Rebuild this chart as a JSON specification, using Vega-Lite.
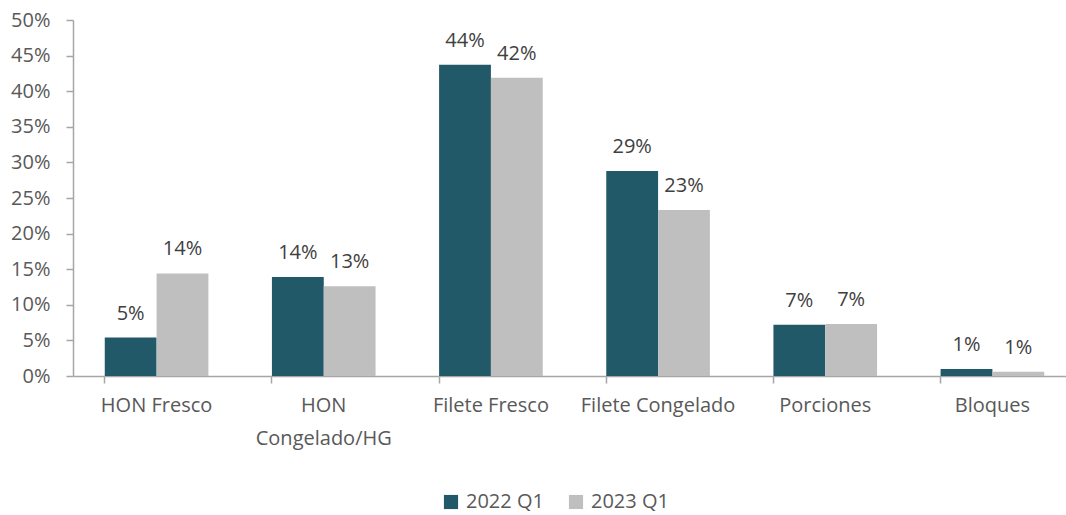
{
  "$schema": "https://vega.github.io/schema/vega-lite/v6.json",
  "autosize": "none",
  "width": 1003,
  "height": 356,
  "padding": {"left": 73, "top": 20, "right": 0, "bottom": 139},
  "background": "white",
  "config": {
    "view": {"stroke": null},
    "font": "Open Sans"
  },
  "data": {
    "values": [
      {"cat": "HON Fresco", "serie": "2022 Q1", "v": 0.054},
      {"cat": "HON Fresco", "serie": "2023 Q1", "v": 0.144},
      {"cat": "HON Congelado/HG", "serie": "2022 Q1", "v": 0.139},
      {"cat": "HON Congelado/HG", "serie": "2023 Q1", "v": 0.126},
      {"cat": "Filete Fresco", "serie": "2022 Q1", "v": 0.437},
      {"cat": "Filete Fresco", "serie": "2023 Q1", "v": 0.419},
      {"cat": "Filete Congelado", "serie": "2022 Q1", "v": 0.288},
      {"cat": "Filete Congelado", "serie": "2023 Q1", "v": 0.233},
      {"cat": "Porciones", "serie": "2022 Q1", "v": 0.072},
      {"cat": "Porciones", "serie": "2023 Q1", "v": 0.073},
      {"cat": "Bloques", "serie": "2022 Q1", "v": 0.010},
      {"cat": "Bloques", "serie": "2023 Q1", "v": 0.006}
    ]
  },
  "encoding": {
    "x": {
      "field": "cat",
      "type": "nominal",
      "sort": null,
      "scale": {"paddingInner": 0.38, "paddingOuter": 0.19},
      "axis": {
        "title": null,
        "labelAngle": 0,
        "bandPosition": 0,
        "domainColor": "#A6A6A6",
        "domainWidth": 1.5,
        "tickColor": "#A6A6A6",
        "tickWidth": 1.5,
        "tickSize": 7,
        "labelFont": "Open Sans",
        "labelFontSize": 20,
        "labelColor": "#595959",
        "labelPadding": 12,
        "labelLineHeight": 33,
        "labelBaseline": "top",
        "labelExpr": "datum.label == 'HON Congelado/HG' ? ['HON', 'Congelado/HG'] : datum.label"
      }
    },
    "xOffset": {"field": "serie", "type": "nominal"},
    "y": {
      "field": "v",
      "type": "quantitative",
      "scale": {"domain": [0, 0.5], "nice": false},
      "axis": {
        "title": null,
        "format": ".0%",
        "values": [0, 0.05, 0.1, 0.15, 0.2, 0.25, 0.3, 0.35, 0.4, 0.45, 0.5],
        "grid": false,
        "domainColor": "#A6A6A6",
        "domainWidth": 1.5,
        "tickColor": "#A6A6A6",
        "tickWidth": 1.5,
        "tickSize": 7,
        "labelFont": "Open Sans",
        "labelFontSize": 20,
        "labelColor": "#595959",
        "labelPadding": 16
      }
    }
  },
  "layer": [
    {
      "mark": {"type": "bar"},
      "encoding": {
        "color": {
          "field": "serie",
          "type": "nominal",
          "scale": {"domain": ["2022 Q1", "2023 Q1"], "range": ["#215968", "#BFBFBF"]},
          "legend": {
            "title": null,
            "orient": "none",
            "direction": "horizontal",
            "legendX": 368,
            "legendY": 472,
            "symbolType": "square",
            "symbolSize": 200,
            "symbolStrokeWidth": 0,
            "labelFont": "Open Sans",
            "labelFontSize": 20,
            "labelColor": "#595959",
            "columnPadding": 22,
            "labelOffset": 5
          }
        }
      }
    },
    {
      "mark": {"type": "text", "baseline": "bottom", "dy": -14, "font": "Open Sans", "fontSize": 20, "color": "#404040"},
      "encoding": {
        "text": {"field": "v", "type": "quantitative", "format": ".0%"}
      }
    }
  ]
}
